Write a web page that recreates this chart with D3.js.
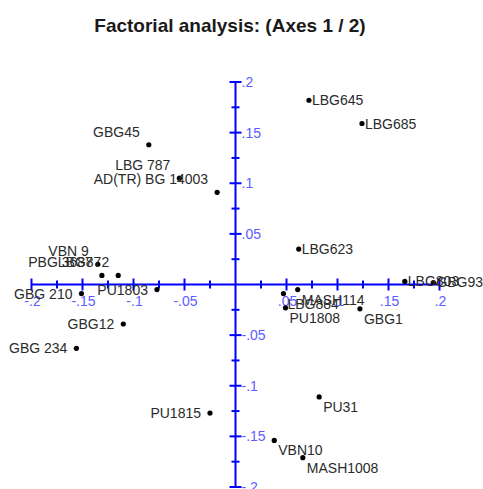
<!DOCTYPE html>
<html lang="en">
<head>
<meta charset="UTF-8">
<title>Factorial analysis</title>
<script src="https://d3js.org/d3.v7.min.js"></script>
<style>
    body { margin: 0; background: #fff; }
    svg { display: block; }
    .title { font-family: "Liberation Sans", Arial, sans-serif; font-weight: bold; font-size: 19px; fill: #1a1a1a; }
    .lbl { font-family: "Liberation Sans", Arial, sans-serif; font-size: 14px; fill: #2b2b2b; }
    .tick_text { font-family: "Liberation Sans", Arial, sans-serif; font-size: 14px; fill: #5c5cff; }
</style>
</head>
<body>
<svg width="483" height="489"></svg>
<script>
    // individuals (names, axis 1, axis 2)
    const names = ["LBG645", "LBG685", "GBG45", "LBG 787", "AD(TR) BG 14003", "LBG623",
        "LBG803", "GBG932", "MASH114", "LBG884", "PU1808", "GBG1",
        "VBN 9", "PBG 3687", "LBG872", "PU1803", "GBG 210", "GBG12", "GBG 234",
        "PU1815", "PU31", "VBN10", "MASH1008"];
    const axis1 = [0.072, 0.124, -0.085, -0.055, -0.018, 0.062,
        0.166, 0.194, 0.061, 0.047, 0.049, 0.122,
        -0.135, -0.131, -0.115, -0.077, -0.151, -0.110, -0.156,
        -0.025, 0.082, 0.038, 0.066];
    const axis2 = [0.182, 0.159, 0.138, 0.105, 0.091, 0.035,
        0.003, 0.002, -0.005, -0.009, -0.023, -0.024,
        0.020, 0.009, 0.009, -0.005, -0.009, -0.039, -0.063,
        -0.127, -0.111, -0.154, -0.171];

    // tick values and labels
    const majorTicks = [-0.2, -0.15, -0.1, -0.05, 0.05, 0.1, 0.15, 0.2];
    const tickLabels = ["-.2", "-.15", "-.1", "-.05", ".05", ".1", ".15", ".2"];
    const minorTicks = [-0.175, -0.125, -0.075, -0.025, 0.025, 0.075, 0.125, 0.175];

    // where each name sits relative to its point
    const placement = {
        "LBG645": "r", "LBG685": "r", "LBG623": "r", "LBG803": "r", "GBG932": "r",
        "GBG45": "ul", "LBG 787": "ul", "AD(TR) BG 14003": "ul", "VBN 9": "ul", "PBG 3687": "ul", "LBG872": "ul",
        "PU1803": "l", "GBG 210": "l", "GBG12": "l", "GBG 234": "l", "PU1815": "l",
        "MASH114": "br", "LBG884": "br", "PU1808": "br", "GBG1": "br", "PU31": "br", "VBN10": "br", "MASH1008": "br"
    };

    const svg = d3.select("svg");

    const x = d3.scaleLinear().domain([-0.2, 0.2]).range([31.5, 439.5]);
    const y = d3.scaleLinear().domain([-0.2, 0.2]).range([487, 82]);

    svg.append("text").attr("class", "title")
        .attr("x", 230).attr("y", 32).attr("text-anchor", "middle")
        .text("Factorial analysis: (Axes 1 / 2)");

    const axisColor = "#0000ff";
    const ax = svg.append("g");

    // axis lines
    ax.append("line").attr("x1", x(-0.2)).attr("x2", x(0.2))
        .attr("y1", y(0)).attr("y2", y(0))
        .attr("stroke", axisColor).attr("stroke-width", 2);
    ax.append("line").attr("x1", x(0)).attr("x2", x(0))
        .attr("y1", y(0.2)).attr("y2", y(-0.2))
        .attr("stroke", axisColor).attr("stroke-width", 2);

    // horizontal axis ticks
    ax.selectAll(".xmaj").data(majorTicks).enter().append("line")
        .attr("x1", d => x(d)).attr("x2", d => x(d))
        .attr("y1", y(0) - 6).attr("y2", y(0) + 6)
        .attr("stroke", axisColor).attr("stroke-width", 2);
    ax.selectAll(".xmin").data(minorTicks).enter().append("line")
        .attr("x1", d => x(d)).attr("x2", d => x(d))
        .attr("y1", y(0) - 4).attr("y2", y(0) + 4)
        .attr("stroke", axisColor).attr("stroke-width", 2);

    // vertical axis ticks
    ax.selectAll(".ymaj").data(majorTicks).enter().append("line")
        .attr("y1", d => y(d)).attr("y2", d => y(d))
        .attr("x1", x(0) - 6).attr("x2", x(0) + 6)
        .attr("stroke", axisColor).attr("stroke-width", 2);
    ax.selectAll(".ymin").data(minorTicks).enter().append("line")
        .attr("y1", d => y(d)).attr("y2", d => y(d))
        .attr("x1", x(0) - 4).attr("x2", x(0) + 4)
        .attr("stroke", axisColor).attr("stroke-width", 2);

    // tick labels
    ax.selectAll(".xt").data(majorTicks).enter().append("text")
        .attr("class", "tick_text")
        .attr("x", d => x(d) + 1).attr("y", y(0) + 21)
        .attr("text-anchor", "middle")
        .text((d, i) => tickLabels[i]);
    ax.selectAll(".yt").data(majorTicks).enter().append("text")
        .attr("class", "tick_text")
        .attr("x", x(0) + 6).attr("y", d => y(d) + 5)
        .text((d, i) => tickLabels[i]);

    // points
    const pts = names.map((n, i) => ({ name: n, a1: axis1[i], a2: axis2[i] }));

    svg.append("g").selectAll("circle").data(pts).enter().append("circle")
        .attr("cx", d => x(d.a1)).attr("cy", d => y(d.a2))
        .attr("r", 2.6).attr("fill", "#000");

    const off = {
        r: { dx: 3, dy: 5, anchor: "start" },
        l: { dx: -9, dy: 5, anchor: "end" },
        ul: { dx: -9, dy: -8, anchor: "end" },
        br: { dx: 4, dy: 15, anchor: "start" }
    };

    svg.append("g").selectAll("text").data(pts).enter().append("text")
        .attr("class", "lbl")
        .attr("x", d => x(d.a1) + off[placement[d.name]].dx)
        .attr("y", d => y(d.a2) + off[placement[d.name]].dy)
        .attr("text-anchor", d => off[placement[d.name]].anchor)
        .text(d => d.name);
</script>
</body>
</html>
